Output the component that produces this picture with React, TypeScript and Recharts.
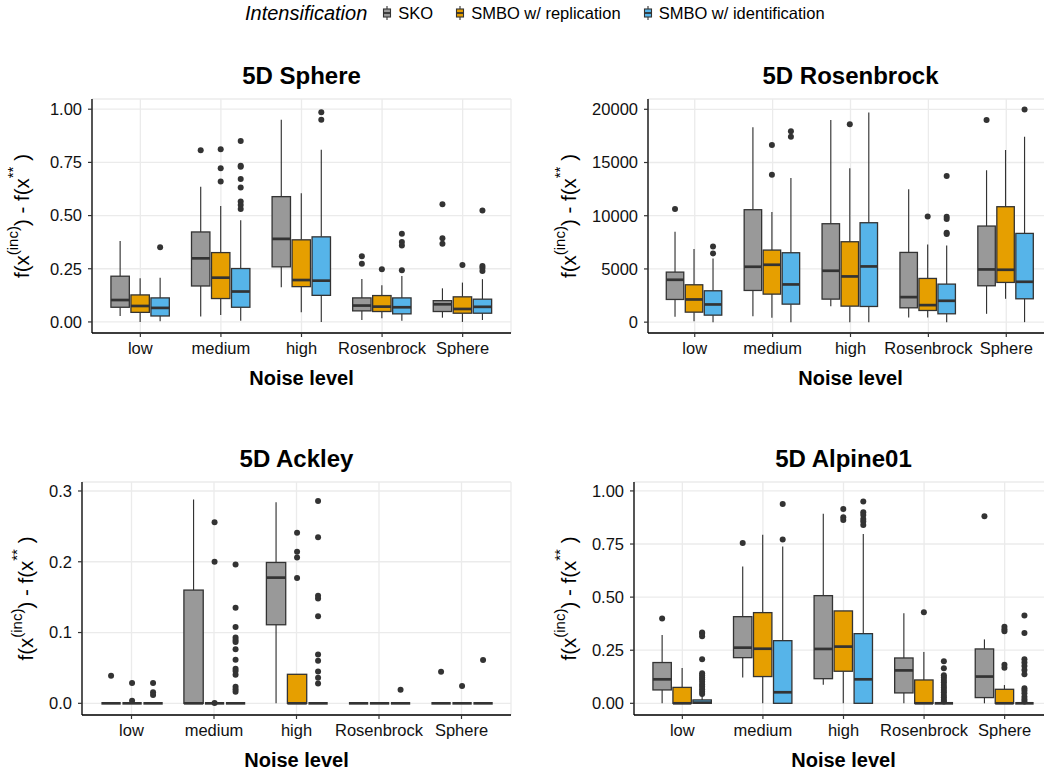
import React from 'react';
import { ComposedChart, Bar, XAxis, YAxis, CartesianGrid } from 'recharts';

const FONT = '"Liberation Sans", Arial, Helvetica, sans-serif';

const CATEGORIES = ['low', 'medium', 'high', 'Rosenbrock', 'Sphere'];
const SERIES = ['SKO', 'SMBO w/ replication', 'SMBO w/ identification'];
const COLORS = ['#999999', '#E69F00', '#56B4E9'];

// Box statistics per category: [lower whisker, Q1, median, Q3, upper whisker]
// ---- 5D Sphere ----
const sphereSKO = [[0.028, 0.069, 0.103, 0.215, 0.381], [0.025, 0.169, 0.299, 0.423, 0.636], [0.163, 0.259, 0.390, 0.589, 0.950], [0.009, 0.052, 0.077, 0.113, 0.202], [0.020, 0.049, 0.083, 0.100, 0.158]];
const sphereSKOOut = [[], [0.807], [], [0.309, 0.274], [0.553, 0.393, 0.368]];
const sphereRepl = [[0, 0.045, 0.075, 0.127, 0.205], [0.033, 0.110, 0.208, 0.326, 0.545], [0.045, 0.166, 0.197, 0.386, 0.605], [0.017, 0.049, 0.072, 0.124, 0.172], [0, 0.041, 0.061, 0.118, 0.185]];
const sphereReplOut = [[], [0.812, 0.723, 0.660], [], [0.248], [0.268]];
const sphereIdent = [[0.003, 0.028, 0.066, 0.113, 0.208], [0.006, 0.069, 0.143, 0.251, 0.478], [0, 0.125, 0.194, 0.400, 0.809], [0.005, 0.038, 0.069, 0.113, 0.216], [0.009, 0.041, 0.071, 0.107, 0.201]];
const sphereIdentOut = [[0.351], [0.850, 0.734, 0.729, 0.672, 0.632, 0.566, 0.550, 0.531], [0.986, 0.950], [0.414, 0.376, 0.359, 0.243], [0.524, 0.263, 0.254, 0.240]];
const sphereTicks = [0, 0.25, 0.5, 0.75, 1];
const sphereDomain = [-0.052, 1.048];

// ---- 5D Rosenbrock ----
const rosenSKO = [[502, 2132, 3981, 4702, 8496], [564, 2978, 5204, 10565, 18308], [1505, 2163, 4828, 9248, 18998], [439, 1348, 2351, 6552, 12477], [784, 3417, 4953, 9029, 14264]];
const rosenSKOOut = [[10627], [], [], [], [18998]];
const rosenRepl = [[94, 940, 2132, 3511, 6866], [408, 2633, 5392, 6772, 10345], [0, 1505, 4295, 7555, 14452], [439, 1097, 1599, 4107, 7305], [2194, 3731, 4922, 10847, 16177]];
const rosenReplOut = [[], [16647, 13857], [18590], [9938], []];
const rosenIdent = [[0, 658, 1662, 2947, 5988], [0, 1693, 3543, 6521, 13543], [0, 1473, 5235, 9342, 19688], [0, 784, 2006, 3574, 7210], [0, 2194, 3793, 8339, 17430]];
const rosenIdentOut = [[7116, 6458], [17932, 17430], [], [13731, 9906, 9687, 8402, 8276], [19970]];
const rosenTicks = [0, 5000, 10000, 15000, 20000];
const rosenDomain = [-1020, 20968];

// ---- 5D Ackley ----
const ackleySKO = [[0, 0, 0, 0, 0], [0, 0, 0, 0.160, 0.288], [0, 0.111, 0.1776, 0.199, 0.284], [0, 0, 0, 0, 0], [0, 0, 0, 0, 0]];
const ackleySKOOut = [[0.0391], [], [], [], [0.0447]];
const ackleyRepl = [[0, 0, 0, 0, 0], [0, 0, 0, 0, 0], [0, 0, 0, 0.041, 0.041], [0, 0, 0, 0, 0], [0, 0, 0, 0, 0]];
const ackleyReplOut = [[0.0287, 0.0038], [0.256, 0.200, 0.0005], [0.241, 0.214, 0.206, 0.177], [], [0.0245]];
const ackleyIdent = [[0, 0, 0, 0, 0], [0, 0, 0, 0, 0], [0, 0, 0, 0, 0], [0, 0, 0, 0, 0], [0, 0, 0, 0, 0]];
const ackleyIdentOut = [[0.0287, 0.0155, 0.0118], [0.196, 0.135, 0.108, 0.093, 0.0895, 0.0867, 0.0763, 0.0617, 0.049, 0.0457, 0.0405, 0.0235, 0.0198, 0.0165], [0.286, 0.2345, 0.152, 0.148, 0.123, 0.069, 0.060, 0.045, 0.036, 0.028], [0.0193], [0.0612]];
const ackleyTicks = [0, 0.1, 0.2, 0.3];
const ackleyDomain = [-0.0165, 0.3127];

// ---- 5D Alpine01 ----
const alpineSKO = [[0, 0.063, 0.113, 0.192, 0.322], [0.122, 0.215, 0.262, 0.408, 0.644], [0.088, 0.116, 0.256, 0.507, 0.892], [0, 0.049, 0.155, 0.2135, 0.424], [0, 0.027, 0.126, 0.256, 0.301]];
const alpineSKOOut = [[0.399], [0.755], [], [], [0.881]];
const alpineRepl = [[0, 0, 0, 0.075, 0.166], [0, 0.126, 0.257, 0.427, 0.794], [0, 0.151, 0.267, 0.435, 0.435], [0, 0, 0, 0.110, 0.242], [0, 0, 0, 0.066, 0.086]];
const alpineReplOut = [[], [], [0.915, 0.876, 0.863], [0.429], [0.361, 0.349, 0.339, 0.182, 0.168]];
const alpineIdent = [[0, 0, 0.003, 0.016, 0.035], [0, 0, 0.052, 0.295, 0.738], [0, 0, 0.113, 0.328, 0.797], [0, 0, 0, 0, 0], [0, 0, 0, 0, 0]];
const alpineIdentOut = [[0.334, 0.327, 0.316, 0.207, 0.141, 0.132, 0.122, 0.113, 0.102, 0.089, 0.078, 0.066, 0.055, 0.044], [0.939, 0.771], [0.950, 0.900, 0.887, 0.868, 0.856, 0.840], [0.198, 0.165, 0.132, 0.122, 0.110, 0.099, 0.086, 0.075, 0.063, 0.052, 0.039, 0.028, 0.017, 0.008], [0.413, 0.331, 0.207, 0.192, 0.176, 0.157, 0.137, 0.071, 0.060, 0.047, 0.031, 0.019, 0.008]];
const alpineTicks = [0, 0.25, 0.5, 0.75, 1];
const alpineDomain = [-0.055, 1.042];

type Layout = { left: number; right: number; top: number; bottom: number; titleY: number; xTitleY: number; yLabelX: number };

const PANELS = [
  { title: '5D Sphere', stats: [sphereSKO, sphereRepl, sphereIdent], outs: [sphereSKOOut, sphereReplOut, sphereIdentOut], ticks: sphereTicks, domain: sphereDomain, fmt: (v: number) => v.toFixed(2),
    layout: { left: 92, right: 511, top: 99, bottom: 333, titleY: 84.3, xTitleY: 385, yLabelX: 28.5 } },
  { title: '5D Rosenbrock', stats: [rosenSKO, rosenRepl, rosenIdent], outs: [rosenSKOOut, rosenReplOut, rosenIdentOut], ticks: rosenTicks, domain: rosenDomain, fmt: (v: number) => String(v),
    layout: { left: 648, right: 1053, top: 99, bottom: 333, titleY: 84.3, xTitleY: 385, yLabelX: 575.5 } },
  { title: '5D Ackley', stats: [ackleySKO, ackleyRepl, ackleyIdent], outs: [ackleySKOOut, ackleyReplOut, ackleyIdentOut], ticks: ackleyTicks, domain: ackleyDomain, fmt: (v: number) => v.toFixed(1),
    layout: { left: 82, right: 511, top: 482, bottom: 715, titleY: 467.3, xTitleY: 767.3, yLabelX: 32.5 } },
  { title: '5D Alpine01', stats: [alpineSKO, alpineRepl, alpineIdent], outs: [alpineSKOOut, alpineReplOut, alpineIdentOut], ticks: alpineTicks, domain: alpineDomain, fmt: (v: number) => v.toFixed(2),
    layout: { left: 634, right: 1053, top: 482, bottom: 715, titleY: 467.3, xTitleY: 767.3, yLabelX: 575.5 } },
];

function buildRows(stats: number[][][], outs: number[][][]) {
  return CATEGORIES.map((c, i) => {
    const row: any = { category: c };
    for (let k = 0; k < 3; k++) {
      const s = stats[k][i];
      const o = outs[k][i];
      const all = [...s, ...o];
      row['ext' + k] = [Math.min(...all), Math.max(...all)];
      row['s' + k] = s;
      row['o' + k] = o;
    }
    return row;
  });
}

const LINE = '#333333';

function BoxShape(props: any) {
  const { x, y, width, height, payload, k, color } = props;
  if (!payload || x == null || y == null) return null;
  const s: number[] = payload['s' + k];
  const o: number[] = payload['o' + k];
  const [emin, emax] = payload['ext' + k];
  const h = Math.abs(height || 0);
  const top = Math.min(y, y + (height || 0));
  const py = (v: number) => (emax === emin ? top : top + (h * (emax - v)) / (emax - emin));
  const cx = x + width / 2;
  const bw = width * 0.92;
  const bx = cx - bw / 2;
  const yQ3 = py(s[3]);
  const yQ1 = py(s[1]);
  return (
    <g>
      <line x1={cx} x2={cx} y1={py(s[4])} y2={yQ3} stroke={LINE} strokeWidth={1.15} />
      <line x1={cx} x2={cx} y1={yQ1} y2={py(s[0])} stroke={LINE} strokeWidth={1.15} />
      <rect x={bx} y={yQ3} width={bw} height={Math.max(yQ1 - yQ3, 0)} fill={color} stroke={LINE} strokeWidth={1.3} />
      <line x1={bx} x2={bx + bw} y1={py(s[2])} y2={py(s[2])} stroke={LINE} strokeWidth={2.7} />
      {o.map((v, j) => (
        <circle key={j} cx={cx} cy={py(v)} r={3} fill={LINE} />
      ))}
    </g>
  );
}

function Panel({ p }: { p: (typeof PANELS)[number] }) {
  const L: Layout = p.layout;
  const YW = 60;
  const XH = 40;
  const plotW = L.right - L.left;
  const plotH = L.bottom - L.top;
  const pad = plotW / 52;
  const data = buildRows(p.stats, p.outs);
  const width = plotW + YW + 10;
  const height = plotH + 10 + XH;
  const tickStyle = { fill: '#111111', fontSize: 16.5, fontFamily: FONT };
  return (
    <div style={{ position: 'absolute', left: L.left - YW, top: L.top - 10 }}>
      <ComposedChart width={width} height={height} data={data} margin={{ top: 10, right: 10, left: 0, bottom: 0 }} barCategoryGap="12.5%" barGap={0}>
        <CartesianGrid stroke="#EBEBEB" strokeWidth={1.3} />
        <XAxis dataKey="category" type="category" height={XH} padding={{ left: pad, right: pad }} interval={0} tickSize={4} tickMargin={5}
          tick={tickStyle} axisLine={{ stroke: '#000', strokeWidth: 1.3 }} tickLine={{ stroke: '#333', strokeWidth: 1.2 }} />
        <YAxis type="number" width={YW} domain={p.domain as [number, number]} ticks={p.ticks} allowDataOverflow interval={0} tickFormatter={p.fmt}
          tickSize={4} tickMargin={6} tick={tickStyle} axisLine={{ stroke: '#000', strokeWidth: 1.3 }} tickLine={{ stroke: '#333', strokeWidth: 1.2 }} />
        {[0, 1, 2].map((k) => (
          <Bar key={k} dataKey={'ext' + k} name={SERIES[k]} fill={COLORS[k]} isAnimationActive={false}
            shape={(sp: any) => <BoxShape {...sp} k={k} color={COLORS[k]} />} />
        ))}
      </ComposedChart>
    </div>
  );
}

function LegendKey({ color }: { color: string }) {
  return (
    <svg width={12} height={18} style={{ display: 'block' }}>
      <line x1={6} x2={6} y1={2} y2={16} stroke={LINE} strokeWidth={1.1} />
      <rect x={2.5} y={5} width={7} height={8} fill={color} stroke={LINE} strokeWidth={1.1} />
      <line x1={2.5} x2={9.5} y1={9} y2={9} stroke={LINE} strokeWidth={1.8} />
    </svg>
  );
}

export default function App() {
  return (
    <div style={{ position: 'fixed', left: 0, top: 0, width: 1044, height: 776, overflow: 'hidden', background: '#fff', fontFamily: FONT }}>
      {PANELS.map((p) => (
        <Panel key={p.title} p={p} />
      ))}
      <svg width={1044} height={776} style={{ position: 'absolute', left: 0, top: 0, pointerEvents: 'none' }}>
        {PANELS.map((p) => {
          const L = p.layout;
          const cx = (L.left + L.right) / 2;
          const cy = (L.top + L.bottom) / 2;
          return (
            <g key={p.title} fontFamily={FONT} fill="#000">
              <text x={cx} y={L.titleY} textAnchor="middle" fontSize={24} fontWeight="bold">{p.title}</text>
              <text x={cx} y={L.xTitleY} textAnchor="middle" fontSize={20} fontWeight="bold">Noise level</text>
              <text transform={`translate(${L.yLabelX},${cy}) rotate(-90)`} textAnchor="middle" fontSize={20.5}>
                f(x<tspan fontSize={15} dy={-11}>(inc)</tspan>
                <tspan dy={11}>) - f(x</tspan>
                <tspan fontSize={15} dy={-11}>**</tspan>
                <tspan dy={11}>  )</tspan>
              </text>
            </g>
          );
        })}
      </svg>
      <div style={{ position: 'absolute', left: 245, top: 1, height: 24, display: 'flex', alignItems: 'center', whiteSpace: 'nowrap', color: '#000' }}>
        <span style={{ fontStyle: 'italic', fontSize: 20, marginRight: 14 }}>Intensification</span>
        {SERIES.map((s, i) => (
          <span key={s} style={{ display: 'flex', alignItems: 'center', marginRight: 21 }}>
            <LegendKey color={COLORS[i]} />
            <span style={{ fontSize: 16.5, marginLeft: 5 }}>{s}</span>
          </span>
        ))}
      </div>
    </div>
  );
}
